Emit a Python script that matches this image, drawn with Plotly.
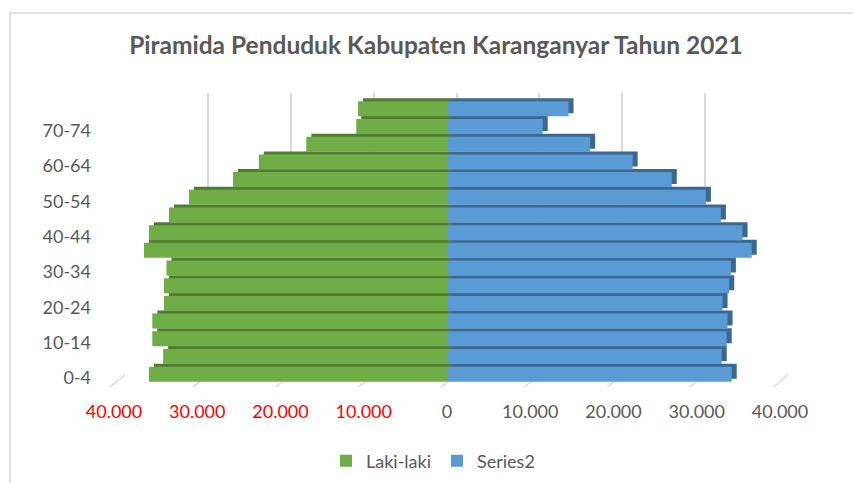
import plotly.graph_objects as go

# ---------------- data ----------------
categories = ["0-4", "5-9", "10-14", "15-19", "20-24", "25-29", "30-34", "35-39",
              "40-44", "45-49", "50-54", "55-59", "60-64", "65-69", "70-74", "75+"]
laki_laki = [35800, 34100, 35400, 35400, 34000, 34000, 33700, 36400,
             35800, 33400, 31000, 25700, 22600, 16900, 10900, 10700]
series2 = [34200, 33000, 33600, 33700, 33100, 33900, 34100, 36600,
           35500, 32900, 31100, 27000, 22300, 17200, 11500, 14600]
tick_values = [-40000, -30000, -20000, -10000, 0, 10000, 20000, 30000, 40000]
tick_labels = ["40.000", "30.000", "20.000", "10.000", "0", "10.000", "20.000", "30.000", "40.000"]
series_names = ["Laki-laki", "Series2"]

# ---------------- styles ----------------
GREEN, GREEN_D = "#70AD47", "#4E7D31"
BLUE, BLUE_D = "#5B9BD5", "#3A6890"
GRID = "#D9D9D9"
TXT = "#595959"
FONT = "Lato"

W, H = 853, 483
L, R, T, B = 114, 788, 93, 383          # paper area in px
PW, PH = R - L, B - T


def px_x(p):
    return (p - L) / PW


def px_y(p):
    return (B - p) / PH


neg_laki = [-v for v in laki_laki]

fig = go.Figure()

# back plane (grid) subplot
fig.add_trace(go.Bar(x=[0], y=[0], xaxis="x", yaxis="y", opacity=0,
                     showlegend=False, hoverinfo="skip"))

# depth (shadow) bars
fig.add_trace(go.Bar(y=categories, x=neg_laki, orientation="h", xaxis="x2", yaxis="y2",
                     marker=dict(color=GREEN_D, line=dict(width=0)),
                     showlegend=False, hoverinfo="skip"))
fig.add_trace(go.Bar(y=categories, x=series2, orientation="h", xaxis="x2", yaxis="y2",
                     marker=dict(color=BLUE_D, line=dict(width=0)),
                     showlegend=False, hoverinfo="skip"))

# front bars
fig.add_trace(go.Bar(y=categories, x=neg_laki, orientation="h", xaxis="x3", yaxis="y3",
                     name=series_names[0], marker=dict(color=GREEN, line=dict(width=0))))
fig.add_trace(go.Bar(y=categories, x=series2, orientation="h", xaxis="x3", yaxis="y3",
                     name=series_names[1], marker=dict(color=BLUE, line=dict(width=0))))

ticktext = [
    (f"<span style='color:#FF0000'>{t}</span>" if v < 0 else t)
    for v, t in zip(tick_values, tick_labels)
]

xr = [-40000, 40000]
cat_range = [-0.5, len(categories) - 0.5]

# floor diagonals + chart border
shapes = []
for v in tick_values:
    frac = (v - xr[0]) / (xr[1] - xr[0])
    xb = 125 + frac * (788 - 125)
    shapes.append(dict(type="line", xref="paper", yref="paper", layer="below",
                       x0=px_x(xb), y0=px_y(375), x1=px_x(xb - 15), y1=px_y(387),
                       line=dict(color=GRID, width=1.5)))
shapes.append(dict(type="rect", xref="paper", yref="paper", layer="below",
                   x0=px_x(10), y0=px_y(510), x1=px_x(880), y1=px_y(13),
                   line=dict(color=GRID, width=1.5), fillcolor="rgba(0,0,0,0)"))

fig.update_layout(
    width=W, height=H,
    margin=dict(l=L, r=W - R, t=T, b=H - B, pad=0, autoexpand=False),
    paper_bgcolor="white", plot_bgcolor="rgba(0,0,0,0)",
    font=dict(family=FONT, size=18, color=TXT),
    barmode="relative", bargap=0.15,
    title=dict(text="<b>Piramida Penduduk Kabupaten Karanganyar Tahun 2021</b>",
               x=436 / W, xref="container", xanchor="center",
               y=1 - 45 / H, yref="container", yanchor="middle",
               font=dict(family=FONT, size=24.5, color=TXT)),
    xaxis=dict(domain=[px_x(125), px_x(788)], range=xr, anchor="y",
               showgrid=True, gridcolor=GRID, gridwidth=1.5, dtick=10000, tick0=0,
               zeroline=False, showticklabels=False, showline=False, fixedrange=True),
    yaxis=dict(domain=[px_y(375), px_y(93)], range=[0, 1], anchor="x",
               visible=False, showgrid=False, fixedrange=True),
    xaxis2=dict(domain=[px_x(114 + 5), px_x(780 + 5)], range=xr, anchor="y2",
                visible=False, showgrid=False, zeroline=False),
    yaxis2=dict(domain=[px_y(383 - 3), px_y(100 - 3)], range=cat_range, anchor="x2",
                type="category", categoryorder="array", categoryarray=categories,
                visible=False, showgrid=False),
    xaxis3=dict(domain=[px_x(114), px_x(780)], range=xr, anchor="y3",
                showgrid=False, zeroline=False, showline=False,
                tickmode="array", tickvals=tick_values, ticktext=ticktext,
                ticks="", ticklabelstandoff=16,
                tickfont=dict(family=FONT, size=18, color=TXT)),
    yaxis3=dict(domain=[px_y(383), px_y(100)], range=cat_range, anchor="x3",
                type="category", categoryorder="array", categoryarray=categories,
                tickmode="array", tickvals=categories[0::2],
                showgrid=False, zeroline=False, showline=False, ticks="",
                ticklabelstandoff=22, ticklabelshift=4,
                tickfont=dict(family=FONT, size=18, color=TXT)),
    legend=dict(orientation="h", x=px_x(437), xanchor="center",
                y=px_y(461), yanchor="middle",
                entrywidth=66, entrywidthmode="pixels",
                font=dict(family=FONT, size=18, color=TXT),
                bgcolor="rgba(0,0,0,0)", traceorder="normal"),
    shapes=shapes,
    showlegend=True,
)

fig.write_html("out.html",
               config={"displayModeBar": False},
               post_script="document.body.style.margin='0';document.body.style.overflow='hidden';")
